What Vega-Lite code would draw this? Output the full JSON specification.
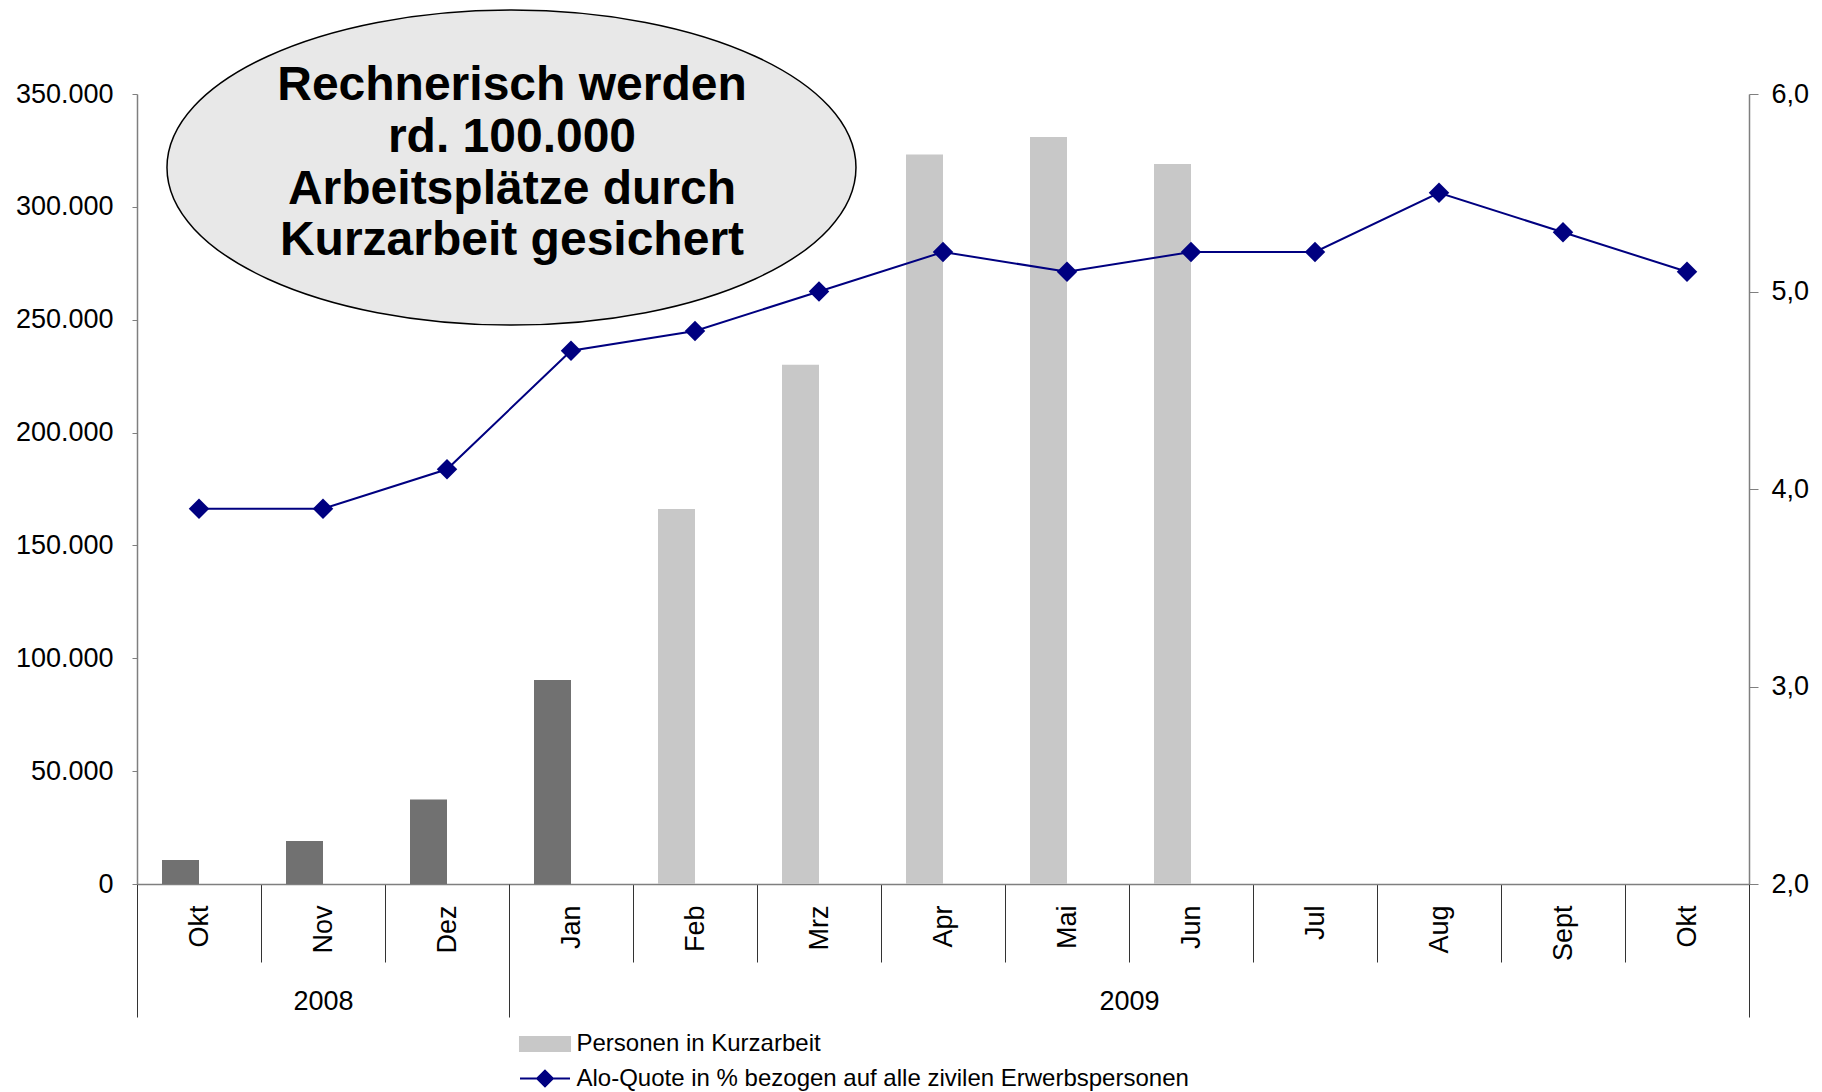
{
  "$schema": "https://vega.github.io/schema/vega-lite/v6.json",
  "width": 1612,
  "height": 790,
  "autosize": {"type": "none"},
  "padding": {"left": 137, "top": 94, "right": 73, "bottom": 208},
  "background": "white",
  "config": {
    "font": "Liberation Sans",
    "view": {"stroke": null},
    "axis": {"grid": false, "labelFont": "Liberation Sans", "labelColor": "#000000", "titleFont": "Liberation Sans"}
  },
  "datasets": {
    "monate": [
      {"monat": "Okt 2008", "kurzarbeit": 10600, "quote": 3.9, "reihe": "Personen in Kurzarbeit (endgültig)"},
      {"monat": "Nov 2008", "kurzarbeit": 19000, "quote": 3.9, "reihe": "Personen in Kurzarbeit (endgültig)"},
      {"monat": "Dez 2008", "kurzarbeit": 37400, "quote": 4.1, "reihe": "Personen in Kurzarbeit (endgültig)"},
      {"monat": "Jan 2009", "kurzarbeit": 90400, "quote": 4.7, "reihe": "Personen in Kurzarbeit (endgültig)"},
      {"monat": "Feb 2009", "kurzarbeit": 166100, "quote": 4.8, "reihe": "Personen in Kurzarbeit"},
      {"monat": "Mrz 2009", "kurzarbeit": 230000, "quote": 5.0, "reihe": "Personen in Kurzarbeit"},
      {"monat": "Apr 2009", "kurzarbeit": 323200, "quote": 5.2, "reihe": "Personen in Kurzarbeit"},
      {"monat": "Mai 2009", "kurzarbeit": 331000, "quote": 5.1, "reihe": "Personen in Kurzarbeit"},
      {"monat": "Jun 2009", "kurzarbeit": 319000, "quote": 5.2, "reihe": "Personen in Kurzarbeit"},
      {"monat": "Jul 2009", "kurzarbeit": null, "quote": 5.2, "reihe": "Personen in Kurzarbeit"},
      {"monat": "Aug 2009", "kurzarbeit": null, "quote": 5.5, "reihe": "Personen in Kurzarbeit"},
      {"monat": "Sept 2009", "kurzarbeit": null, "quote": 5.3, "reihe": "Personen in Kurzarbeit"},
      {"monat": "Okt 2009", "kurzarbeit": null, "quote": 5.1, "reihe": "Personen in Kurzarbeit"}
    ],
    "jahre": [
      {"jahr": "2008", "mitte": 1.5},
      {"jahr": "2009", "mitte": 8}
    ],
    "grenzen": [
      {"grenze": 0},
      {"grenze": 3},
      {"grenze": 13}
    ],
    "hinweis": [
      {"hinweis": "Rechnerisch werden\nrd. 100.000\nArbeitsplätze durch\nKurzarbeit gesichert"}
    ]
  },
  "layer": [
    {
      "data": {"name": "monate"},
      "mark": {"type": "bar"},
      "encoding": {
        "x": {
          "field": "monat", "type": "nominal", "sort": null,
          "scale": {
            "type": "band", "paddingInner": 0, "paddingOuter": 0,
            "domain": ["Okt 2008", "Nov 2008", "Dez 2008", "Jan 2009", "Feb 2009", "Mrz 2009", "Apr 2009", "Mai 2009", "Jun 2009", "Jul 2009", "Aug 2009", "Sept 2009", "Okt 2009"]
          },
          "axis": {
            "orient": "bottom", "title": null, "tickBand": "extent", "tickSize": 78,
            "tickColor": "#333333", "tickWidth": 1, "domainColor": "#7f7f7f", "domainWidth": 1.5,
            "labelAngle": -90, "labelAlign": "right", "labelBaseline": "middle",
            "labelPadding": -57, "labelFontSize": 27, "labelOverlap": false,
            "labelExpr": "datum.value ? split(datum.value, ' ')[0] : ''",
            "encode": {"ticks": {"update": {"y": {"value": -9}}}}
          }
        },
        "xOffset": {"datum": "a", "type": "nominal", "scale": {"domain": ["a", "b"], "paddingInner": 0, "paddingOuter": 0.676}},
        "y": {
          "field": "kurzarbeit", "type": "quantitative",
          "scale": {"domain": [0, 350000], "nice": false},
          "axis": {
            "orient": "left", "title": null,
            "values": [0, 50000, 100000, 150000, 200000, 250000, 300000, 350000],
            "labelExpr": "replace(format(datum.value, ','), ',', '.')",
            "tickSize": 5, "tickColor": "#7f7f7f", "domainColor": "#7f7f7f", "domainWidth": 1.5,
            "labelPadding": 19, "labelFontSize": 27,
            "encode": {"ticks": {"update": {"x": {"value": 10}}}}
          }
        },
        "color": {
          "field": "reihe", "type": "nominal",
          "scale": {
            "domain": ["Personen in Kurzarbeit", "Alo-Quote in % bezogen auf alle zivilen Erwerbspersonen", "Personen in Kurzarbeit (endgültig)"],
            "range": ["#c8c8c8", "#000080", "#717171"]
          },
          "legend": {
            "orient": "none", "legendX": 389.5, "legendY": 931.5, "direction": "vertical",
            "title": null,
            "values": ["Personen in Kurzarbeit", "Alo-Quote in % bezogen auf alle zivilen Erwerbspersonen"],
            "symbolSize": 1225, "symbolStrokeWidth": 2,
            "labelFont": "Liberation Sans", "labelFontSize": 24, "labelColor": "#000000",
            "labelLimit": 1000, "labelOffset": 13, "rowPadding": 3.5, "padding": 0,
            "encode": {
              "symbols": {
                "update": {
                  "shape": {"signal": "datum.value === 'Personen in Kurzarbeit' ? 'M-1.43,-0.4H1.43V0.4H-1.43Z' : 'M-1.43,0H1.43M0,-0.45L0.45,0L0,0.45L-0.45,0Z'"},
                  "fill": {"signal": "datum.value === 'Personen in Kurzarbeit' ? '#c8c8c8' : '#000080'"},
                  "stroke": {"signal": "datum.value === 'Personen in Kurzarbeit' ? 'transparent' : '#000080'"},
                  "strokeWidth": {"value": 2},
                  "opacity": {"value": 1},
                  "fillOpacity": {"value": 1}
                }
              }
            }
          }
        }
      }
    },
    {
      "data": {"name": "monate"},
      "mark": {"type": "line", "strokeWidth": 2, "point": {"shape": "diamond", "size": 420, "filled": true, "opacity": 1}},
      "encoding": {
        "x": {
          "field": "monat", "type": "nominal", "sort": null,
          "scale": {
            "type": "band", "paddingInner": 0, "paddingOuter": 0,
            "domain": ["Okt 2008", "Nov 2008", "Dez 2008", "Jan 2009", "Feb 2009", "Mrz 2009", "Apr 2009", "Mai 2009", "Jun 2009", "Jul 2009", "Aug 2009", "Sept 2009", "Okt 2009"]
          },
          "axis": null
        },
        "y": {
          "field": "quote", "type": "quantitative",
          "scale": {"domain": [2, 6], "nice": false, "zero": false},
          "axis": {
            "orient": "right", "title": null, "values": [2, 3, 4, 5, 6],
            "labelExpr": "replace(format(datum.value, '.1f'), '.', ',')",
            "tickSize": 9, "tickColor": "#7f7f7f", "domainColor": "#7f7f7f", "domainWidth": 1.5,
            "labelPadding": 13, "labelFontSize": 27,
            "encode": {"ticks": {"update": {"x": {"value": -8}}}}
          }
        },
        "color": {"datum": "Alo-Quote in % bezogen auf alle zivilen Erwerbspersonen", "type": "nominal"}
      }
    },
    {
      "data": {"name": "jahre"},
      "mark": {"type": "rule", "opacity": 0},
      "encoding": {
        "x": {
          "field": "mitte", "type": "quantitative",
          "scale": {"domain": [0, 13], "nice": false, "zero": false},
          "axis": {
            "orient": "bottom", "title": null, "values": [1.5, 8],
            "labelExpr": "datum.value < 3 ? '2008' : '2009'",
            "ticks": false, "domain": false, "labelPadding": 104, "labelFontSize": 27,
            "labelFlush": false, "labelOverlap": false
          }
        }
      }
    },
    {
      "data": {"name": "grenzen"},
      "mark": {"type": "rule", "opacity": 0},
      "encoding": {
        "x": {
          "field": "grenze", "type": "quantitative",
          "scale": {"domain": [0, 13], "nice": false, "zero": false},
          "axis": {
            "orient": "bottom", "title": null, "values": [0, 3, 13],
            "labels": false, "domain": false, "tickSize": 133, "tickColor": "#333333", "tickWidth": 1,
            "encode": {"ticks": {"update": {"y": {"value": -9}}}}
          }
        }
      }
    },
    {
      "data": {"name": "hinweis"},
      "mark": {
        "type": "point",
        "shape": "M-1,0A1,0.4572,0,1,1,1,0A1,0.4572,0,1,1,-1,0Z",
        "size": 474721, "filled": true, "fill": "#e8e8e8", "stroke": "#000000", "strokeWidth": 1.5, "opacity": 1
      },
      "encoding": {
        "x": {"datum": 3.02, "type": "quantitative", "scale": {"domain": [0, 13], "nice": false, "zero": false}, "axis": null},
        "y": {"datum": 317400, "type": "quantitative", "scale": {"domain": [0, 350000], "nice": false}, "axis": null}
      }
    },
    {
      "data": {"name": "hinweis"},
      "mark": {
        "type": "text", "font": "Liberation Sans", "fontWeight": "bold", "fontSize": 48,
        "lineBreak": "\n", "lineHeight": 51.7, "align": "center", "baseline": "middle", "color": "#000000"
      },
      "encoding": {
        "x": {"datum": 3.024, "type": "quantitative", "scale": {"domain": [0, 13], "nice": false, "zero": false}, "axis": null},
        "y": {"datum": 353400, "type": "quantitative", "scale": {"domain": [0, 350000], "nice": false}, "axis": null},
        "text": {"field": "hinweis"}
      }
    }
  ],
  "resolve": {
    "scale": {"x": "independent", "y": "independent"},
    "axis": {"x": "independent", "y": "independent"}
  }
}
